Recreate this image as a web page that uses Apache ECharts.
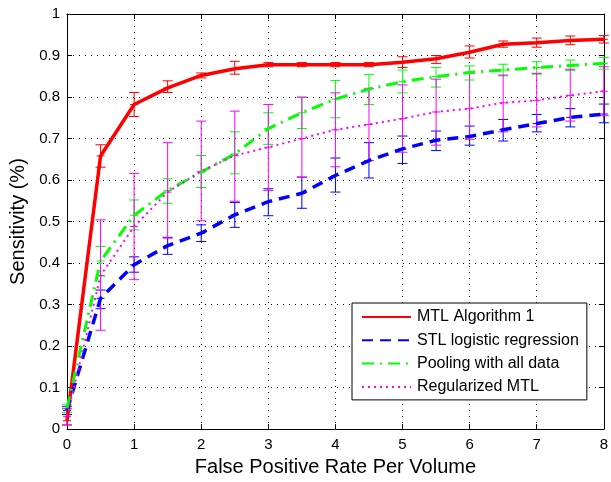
<!DOCTYPE html>
<html>
<head>
<meta charset="utf-8">
<script src="https://cdn.jsdelivr.net/npm/echarts@6/dist/echarts.min.js"></script>
<style>
  html, body { margin: 0; padding: 0; background: #fff; }
  #chart { width: 611px; height: 482px; }
</style>
</head>
<body>
<div id="chart"></div>
<script>
// false positive rate per volume (x) shared by every curve
var fpr = [0, 0.5, 1, 1.5, 2, 2.5, 3, 3.5, 4, 4.5, 5, 5.5, 6, 6.5, 7, 7.5, 8]

var mtl = [0.02, 0.658, 0.782, 0.822, 0.852, 0.868, 0.878, 0.878, 0.878, 0.878, 0.884, 0.892, 0.908, 0.927, 0.931, 0.936, 0.939]
var mtlLow = [0.01, 0.631, 0.753, 0.811, 0.846, 0.855, 0.873, 0.873, 0.873, 0.873, 0.871, 0.881, 0.894, 0.92, 0.92, 0.926, 0.93]
var mtlHigh = [0.035, 0.685, 0.811, 0.839, 0.858, 0.886, 0.883, 0.883, 0.883, 0.883, 0.897, 0.9, 0.923, 0.935, 0.942, 0.947, 0.948]

var stl = [0.045, 0.315, 0.396, 0.442, 0.472, 0.516, 0.548, 0.568, 0.611, 0.647, 0.675, 0.696, 0.705, 0.721, 0.736, 0.751, 0.759]
var stlLow = [0.035, 0.29, 0.378, 0.421, 0.452, 0.486, 0.514, 0.532, 0.571, 0.605, 0.64, 0.671, 0.684, 0.694, 0.716, 0.728, 0.738]
var stlHigh = [0.055, 0.335, 0.415, 0.462, 0.492, 0.546, 0.579, 0.607, 0.653, 0.69, 0.706, 0.718, 0.73, 0.746, 0.758, 0.772, 0.783]

var pool = [0.05, 0.405, 0.515, 0.575, 0.619, 0.663, 0.724, 0.762, 0.795, 0.819, 0.837, 0.849, 0.859, 0.865, 0.871, 0.876, 0.881]
var poolLow = [0.04, 0.369, 0.48, 0.544, 0.582, 0.615, 0.686, 0.724, 0.75, 0.782, 0.81, 0.824, 0.841, 0.851, 0.855, 0.864, 0.867]
var poolHigh = [0.06, 0.44, 0.552, 0.603, 0.659, 0.716, 0.762, 0.799, 0.84, 0.854, 0.865, 0.871, 0.875, 0.879, 0.885, 0.889, 0.895]

var reg = [0.03, 0.37, 0.488, 0.571, 0.621, 0.659, 0.679, 0.7, 0.721, 0.734, 0.748, 0.764, 0.772, 0.786, 0.792, 0.804, 0.814]
var regLow = [0.01, 0.238, 0.36, 0.46, 0.502, 0.549, 0.575, 0.607, 0.632, 0.647, 0.667, 0.684, 0.698, 0.716, 0.728, 0.742, 0.755]
var regHigh = [0.05, 0.504, 0.616, 0.69, 0.742, 0.766, 0.782, 0.8, 0.81, 0.821, 0.829, 0.843, 0.857, 0.853, 0.857, 0.867, 0.873]

var names = ['MTL Algorithm 1', 'STL logistic regression', 'Pooling with all data', 'Regularized MTL']
var font = 'Liberation Sans, Arial, Helvetica, sans-serif'

function pairs (ys) {
  return fpr.map(function (x, i) { return [x, ys[i]] })
}

function bars (ys, lo, hi) {
  return fpr.map(function (x, i) { return [x, lo[i], hi[i], ys[i]] })
}

function errorRender (color) {
  return function (params, api) {
    var x = api.value(0)
    var lo = api.coord([x, api.value(1)])
    var hi = api.coord([x, api.value(2)])
    var mid = api.coord([x, api.value(3)])
    var cap = 5
    var style = { stroke: color, lineWidth: 1 }
    return {
      type: 'group',
      children: [
        { type: 'line', shape: { x1: lo[0], y1: lo[1], x2: hi[0], y2: hi[1] }, style: style },
        { type: 'line', shape: { x1: lo[0] - cap, y1: lo[1], x2: lo[0] + cap, y2: lo[1] }, style: style },
        { type: 'line', shape: { x1: hi[0] - cap, y1: hi[1], x2: hi[0] + cap, y2: hi[1] }, style: style },
        { type: 'line', shape: { x1: mid[0] - 4, y1: mid[1], x2: mid[0] + 4, y2: mid[1] }, style: style }
      ]
    }
  }
}

function lineSeries (name, ys, color, width, dash) {
  return {
    name: name,
    type: 'line',
    data: pairs(ys),
    symbol: 'none',
    animation: false,
    lineStyle: { color: color, width: width, type: dash },
    itemStyle: { color: color }
  }
}

function errSeries (ys, lo, hi, color) {
  return {
    name: 'err',
    type: 'custom',
    data: bars(ys, lo, hi),
    renderItem: errorRender(color),
    clip: false,
    animation: false,
    silent: true
  }
}

var axisCommon = {
  type: 'value',
  axisLine: { show: true, onZero: false, lineStyle: { color: '#000', width: 1 } },
  axisTick: { show: true, inside: true, length: 5, lineStyle: { color: '#000' } }
}

var chart = echarts.init(document.getElementById('chart'))
chart.setOption({
  backgroundColor: '#fff',
  animation: false,
  grid: { left: 67, right: 6, top: 14, bottom: 47, containLabel: false },
  legend: {
    data: names,
    orient: 'vertical',
    left: 352,
    top: 303,
    padding: [6, 8, 5, 9],
    itemWidth: 49,
    itemHeight: 16,
    itemGap: 7.3,
    borderColor: '#000',
    borderWidth: 1,
    backgroundColor: '#fff',
    itemStyle: { color: 'transparent', borderWidth: 0, opacity: 0 },
    textStyle: { color: '#000', fontSize: 16, fontFamily: font, padding: [0, 0, 0, 1] }
  },
  xAxis: [
    Object.assign({}, axisCommon, {
      min: 0, max: 8, interval: 1, position: 'bottom',
      axisLabel: { color: '#000', fontSize: 15, fontFamily: font, margin: 8 },
      splitLine: { show: true, lineStyle: { color: '#000', width: 1, type: [1, 5] } },
      name: 'False Positive Rate Per Volume',
      nameLocation: 'middle',
      nameGap: 22,
      nameTextStyle: { color: '#000', fontSize: 20, fontFamily: font }
    }),
    Object.assign({}, axisCommon, {
      min: 0, max: 8, interval: 1, position: 'top',
      axisLabel: { show: false }, splitLine: { show: false }
    })
  ],
  yAxis: [
    Object.assign({}, axisCommon, {
      min: 0, max: 1, interval: 0.1, position: 'left',
      axisLabel: { color: '#000', fontSize: 15, fontFamily: font, margin: 7 },
      splitLine: { show: true, lineStyle: { color: '#000', width: 1, type: [1, 5] } },
      name: 'Sensitivity (%)',
      nameLocation: 'middle',
      nameGap: 29,
      nameTextStyle: { color: '#000', fontSize: 20, fontFamily: font }
    }),
    Object.assign({}, axisCommon, {
      min: 0, max: 1, interval: 0.1, position: 'right',
      axisLabel: { show: false }, splitLine: { show: false }
    })
  ],
  series: [
    lineSeries(names[0], mtl, '#ff0000', 3.5, 'solid'),
    errSeries(mtl, mtlLow, mtlHigh, '#ff0000'),
    lineSeries(names[1], stl, '#0000ff', 3.5, [11, 7]),
    errSeries(stl, stlLow, stlHigh, '#0000ff'),
    lineSeries(names[2], pool, '#00ff00', 3, [12, 6, 2, 6]),
    errSeries(pool, poolLow, poolHigh, '#00ff00'),
    lineSeries(names[3], reg, '#ff00ff', 2, [2, 4]),
    errSeries(reg, regLow, regHigh, '#ff00ff')
  ]
})
</script>
</body>
</html>
